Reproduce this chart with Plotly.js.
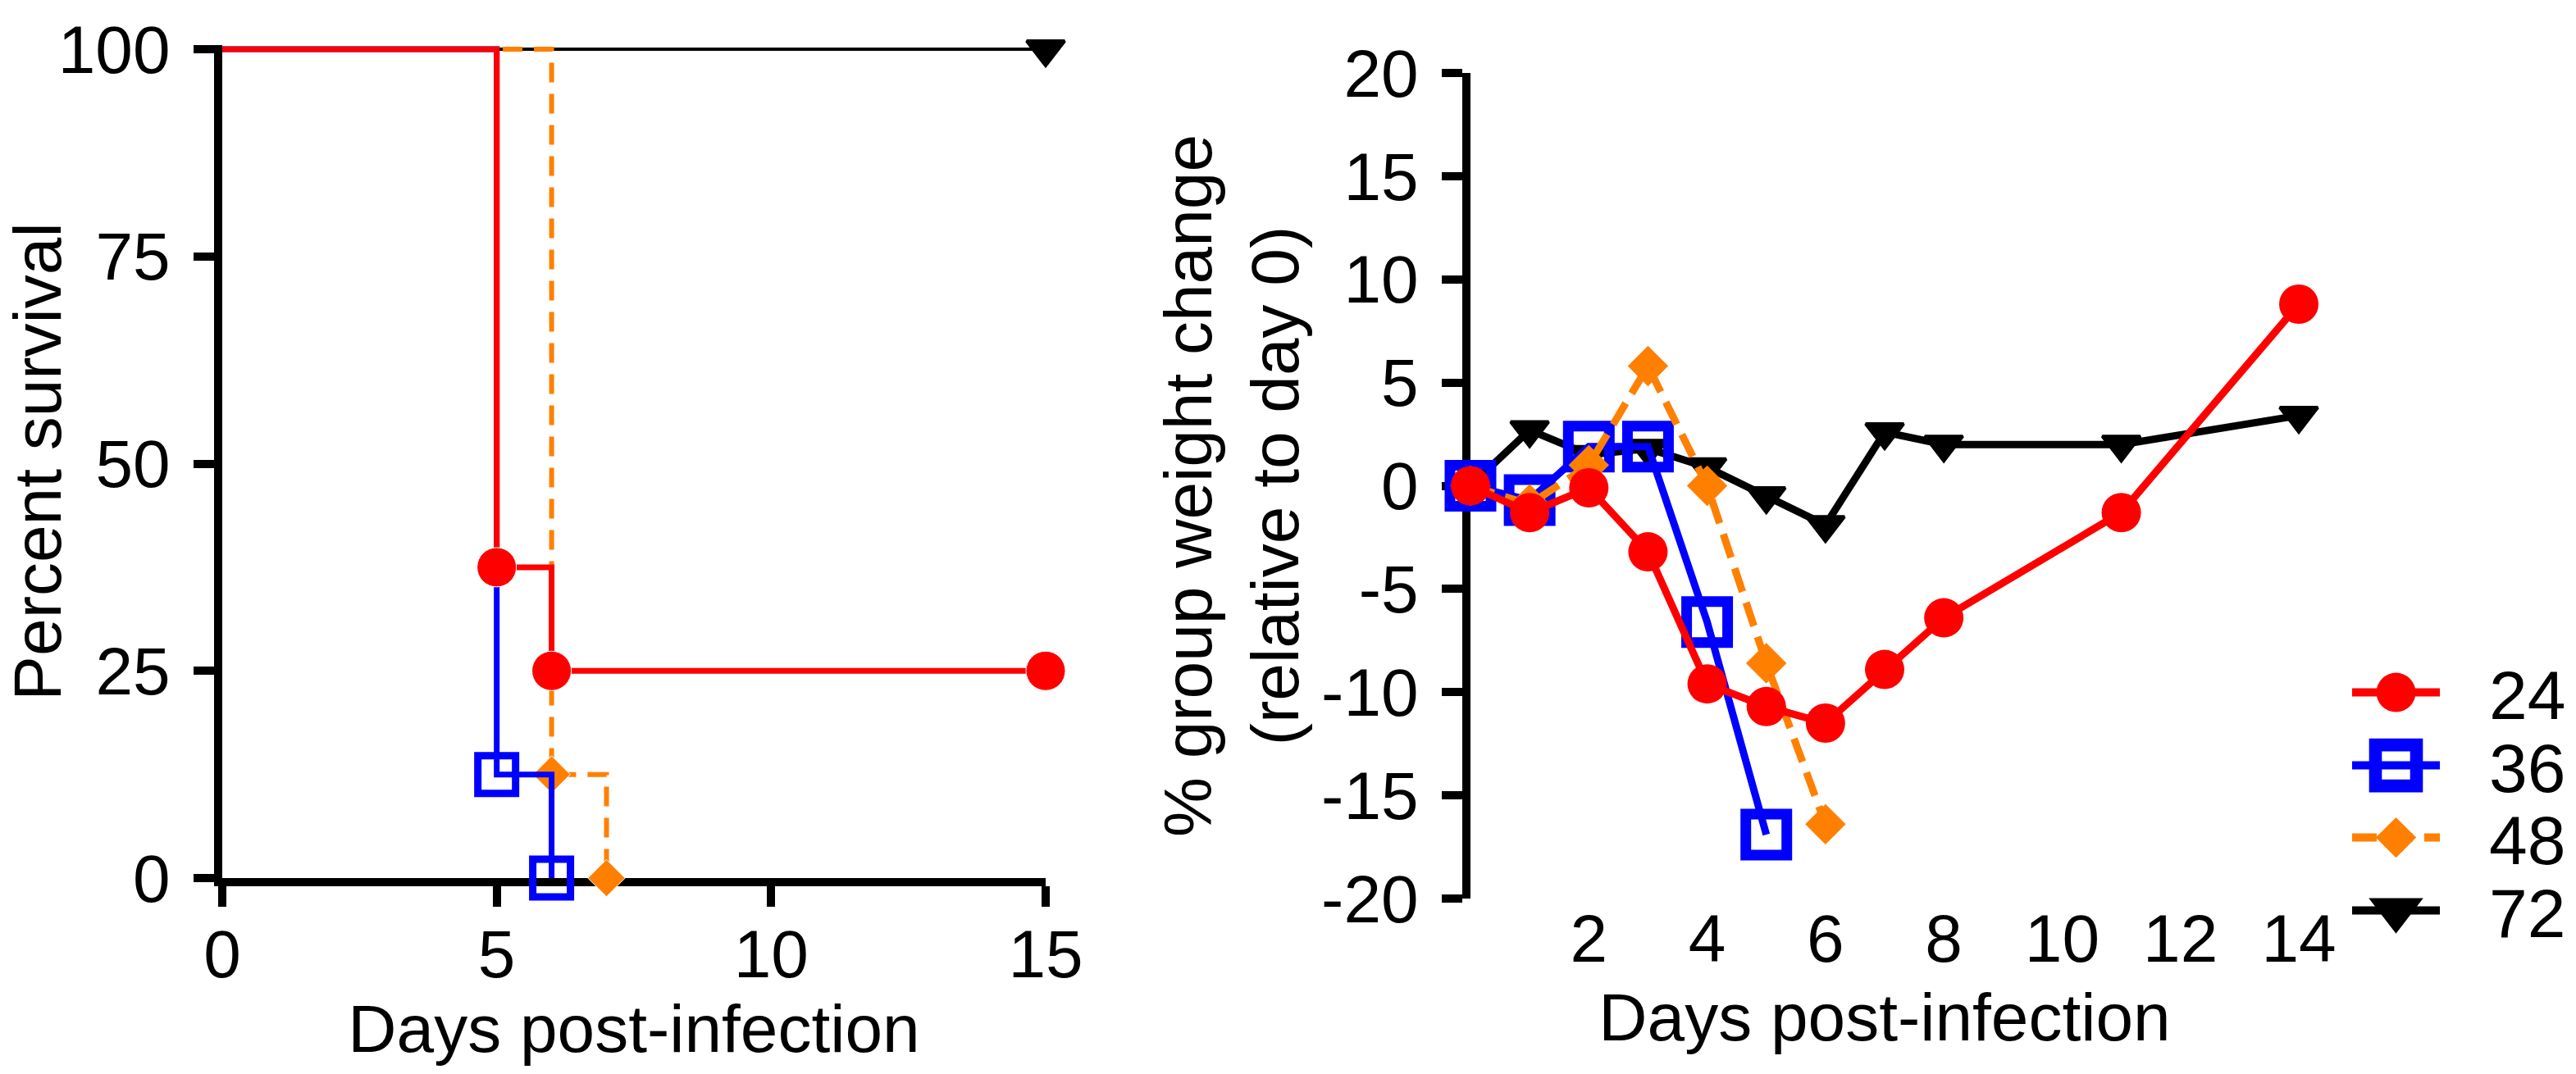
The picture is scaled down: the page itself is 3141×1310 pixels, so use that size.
<!DOCTYPE html>
<html>
<head>
<meta charset="utf-8">
<script src="https://cdn.plot.ly/plotly-3.0.1.min.js"></script>
<style>
    html, body { margin: 0; padding: 0; background: #fff; }
    #chart { width: 3141px; height: 1310px; }
</style>
</head>
<body>
<div id="chart"></div>
<script>
// groups (hours) and their colours
let groups = ["24", "36", "48", "72"];
let colors = ["#ff0000", "#0000ff", "#ff8000", "#000000"];

// survival curves, Kaplan-Meier steps
let survDays24 = [0, 5, 6, 15];
let surv24 = [100, 37.5, 25, 25];
let survDays36 = [0, 5, 6];
let surv36 = [100, 12.5, 0];
let survDays48 = [0, 6, 7];
let surv48 = [100, 12.5, 0];
let survDays72 = [0, 15];
let surv72 = [100, 100];

// % group weight change relative to day 0
let wDays24 = [0, 1, 2, 3, 4, 5, 6, 7, 8, 11, 14];
let weight24 = [0, -1.3, -0.1, -3.2, -9.6, -10.7, -11.5, -8.9, -6.4, -1.3, 8.8];
let wDays36 = [0, 1, 2, 3, 4, 5];
let weight36 = [0, -0.7, 1.9, 1.9, -6.6, -16.9];
let wDays48 = [0, 1, 2, 3, 4, 5, 6];
let weight48 = [0, -0.9, 1.0, 5.8, 0, -8.6, -16.4];
let wDays72 = [0, 1, 2, 3, 4, 5, 6, 7, 8, 11, 14];
let weight72 = [0, 2.7, 1.5, 1.8, 0.9, -0.5, -1.9, 2.6, 2.0, 2.0, 3.4];

// tick labels
let survTicksX = [0, 5, 10, 15];
let survTicksY = [0, 25, 50, 75, 100];
let weightTicksX = [2, 4, 6, 8, 10, 12, 14];
let weightTicksY = [-20, -15, -10, -5, 0, 5, 10, 15, 20];

let W = 3141, H = 1310;
let font = "Liberation Sans, Arial, sans-serif";

// plot boxes in pixels
let leftBox = { l: 271, r: 1275, t: 55, b: 1071 };
let rightBox = { l: 1793, r: 2803, t: 89, b: 1096 };
// legend: left edge and row centres in pixels
let legendLeft = 2863;
let legendRows = [845, 934, 1022, 1111];

function xdom(box) { return [box.l / W, box.r / W]; }
function ydom(box) { return [(H - box.b) / H, (H - box.t) / H]; }
function legendId(i) { return i === 0 ? "legend" : "legend" + (i + 1); }

// no marker on the starting point of a survival curve
function stepSizes(x, size) {
    return x.map((d, i) => (i === 0 ? 0 : size));
}

let survTraces = [
    {
        x: survDays72, y: surv72, xaxis: "x", yaxis: "y",
        mode: "lines+markers", line: { shape: "hv", color: colors[3], width: 4 },
        marker: { symbol: "triangle-down", size: stepSizes(survDays72, 40), color: colors[3], opacity: 1, line: { width: 4, color: colors[3] } },
        showlegend: false, cliponaxis: false,
    },
    {
        x: survDays48, y: surv48, xaxis: "x", yaxis: "y",
        mode: "lines+markers", line: { shape: "hv", color: colors[2], width: 6, dash: "24px,14px" },
        marker: { symbol: "diamond", size: stepSizes(survDays48, 35), color: colors[2], opacity: 1 },
        showlegend: false, cliponaxis: false,
    },
    {
        x: survDays36, y: surv36, xaxis: "x", yaxis: "y",
        mode: "lines+markers", line: { shape: "hv", color: colors[1], width: 7 },
        marker: { symbol: "square-open", size: stepSizes(survDays36, 46), color: colors[1], opacity: 1, line: { width: 9, color: colors[1] } },
        showlegend: false, cliponaxis: false,
    },
    {
        x: survDays24, y: surv24, xaxis: "x", yaxis: "y",
        mode: "lines+markers", line: { shape: "hv", color: colors[0], width: 7 },
        marker: { symbol: "circle", size: stepSizes(survDays24, 48), color: colors[0], opacity: 1 },
        showlegend: false, cliponaxis: false,
    },
];

let weightTraces = [
    {
        x: wDays72, y: weight72, xaxis: "x2", yaxis: "y2", name: groups[3], legend: legendId(3),
        mode: "lines+markers", line: { color: colors[3], width: 9 },
        marker: { symbol: "triangle-down", size: 40, color: colors[3], line: { width: 4, color: colors[3] } },
        cliponaxis: false,
    },
    {
        x: wDays36, y: weight36, xaxis: "x2", yaxis: "y2", name: groups[1], legend: legendId(1),
        mode: "lines+markers", line: { color: colors[1], width: 9 },
        marker: { symbol: "square-open", size: 50, color: colors[1], line: { width: 13, color: colors[1] } },
        cliponaxis: false,
    },
    {
        x: wDays48, y: weight48, xaxis: "x2", yaxis: "y2", name: groups[2], legend: legendId(2),
        mode: "lines+markers", line: { color: colors[2], width: 9, dash: "30px,14px" },
        marker: { symbol: "diamond", size: 38, color: colors[2] },
        cliponaxis: false,
    },
    {
        x: wDays24, y: weight24, xaxis: "x2", yaxis: "y2", name: groups[0], legend: legendId(0),
        mode: "lines+markers", line: { color: colors[0], width: 9 },
        marker: { symbol: "circle", size: 48, color: colors[0] },
        cliponaxis: false,
    },
];

let axisStyle = {
    showline: true, linewidth: 10, linecolor: "#000",
    ticks: "outside", ticklen: 25, tickwidth: 10, tickcolor: "#000",
    showgrid: false, zeroline: false, layer: "below traces",
    tickfont: { family: font, size: 82, color: "#000" },
};

let titleFont = { family: font, size: 82, color: "#000" };
let zeroPos = (H - (rightBox.t + rightBox.b) / 2) / H;

let layout = {
    width: W,
    height: H,
    margin: { l: 0, r: 0, t: 0, b: 0 },
    paper_bgcolor: "#fff",
    plot_bgcolor: "rgba(0,0,0,0)",
    font: { family: font, size: 82, color: "#000" },
    showlegend: true,
    xaxis: Object.assign({}, axisStyle, {
        domain: xdom(leftBox), anchor: "y", range: [0, 15],
        tickvals: survTicksX, ticktext: survTicksX.map(String), ticklabelstandoff: -12,
        title: { text: "Days post-infection", font: titleFont, standoff: 0 },
    }),
    yaxis: Object.assign({}, axisStyle, {
        domain: ydom(leftBox), anchor: "x", range: [0, 100.5],
        tickvals: survTicksY, ticktext: survTicksY.map(String), ticklabelstandoff: 12,
        title: { text: "Percent survival", font: titleFont, standoff: 0 },
    }),
    // bottom axis of the weight plot: labels only
    xaxis2: Object.assign({}, axisStyle, {
        domain: xdom(rightBox), anchor: "y2", range: [0, 14],
        showline: false, ticks: "",
        tickvals: weightTicksX, ticktext: weightTicksX.map(String), ticklabelstandoff: -6,
        title: { text: "Days post-infection", font: titleFont, standoff: 22 },
    }),
    // line and ticks of the weight plot sit on y = 0
    xaxis3: Object.assign({}, axisStyle, {
        domain: xdom(rightBox), anchor: "free", position: zeroPos, overlaying: "x2",
        range: [0, 14], tickvals: weightTicksX, showticklabels: false,
    }),
    yaxis2: Object.assign({}, axisStyle, {
        domain: ydom(rightBox), anchor: "x2", range: [-20, 20],
        tickvals: weightTicksY, ticktext: weightTicksY.map(String), ticklabelstandoff: 12,
        title: { text: "% group weight change<br>(relative to day 0)", font: titleFont, standoff: 4 },
    }),
};

// one small legend per group so the rows sit as close as in the original
groups.forEach(function (g, i) {
    layout[legendId(i)] = {
        x: legendLeft / W, y: (H - legendRows[i]) / H, xanchor: "left", yanchor: "middle",
        font: { family: font, size: 84, color: "#000" },
        itemwidth: 162, bgcolor: "rgba(0,0,0,0)", borderwidth: 0,
    };
});

Plotly.newPlot("chart", survTraces.concat(weightTraces), layout, { staticPlot: true }).then(function (gd) {
    // plotly caps legend symbols at 16px; blow them back up to the plot's marker size
    gd.querySelectorAll("g.traces").forEach(function (item) {
        let d = item.__data__;
        let trace = d && d[0] && d[0].trace;
        if (!trace) return;
        let lineLen = 107;
        let line = item.querySelector(".legendlines path");
        if (line) {
            line.setAttribute("d", "M5,0h" + lineLen);
            line.style.strokeWidth = "10px";
        }
        let k = trace.marker.size / 16;
        item.querySelectorAll(".legendpoints path.scatterpts").forEach(function (p) {
            p.setAttribute("transform", "translate(" + (5 + lineLen / 2) + ",0) scale(" + k + ")");
        });
    });
});
</script>
</body>
</html>
